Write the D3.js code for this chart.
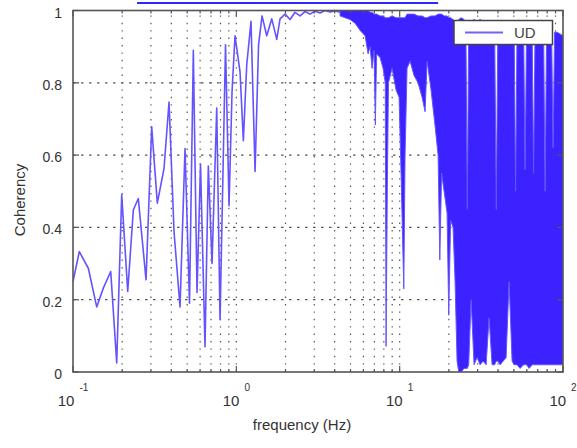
<!DOCTYPE html>
<html>
<head>
<meta charset="utf-8">
<script src="https://cdn.jsdelivr.net/npm/d3@7"></script>
<style>
  body { margin: 0; background: #fff; }
  svg { display: block; font-family: "Liberation Sans", Arial, sans-serif; }
</style>
</head>
<body>
<svg id="chart" width="577" height="448"></svg>
<script>
// Coherency trace, resolved part (Hz, coherency)
const lineFreq = [0.100, 0.1093, 0.1241, 0.1397, 0.1533, 0.1702, 0.1852, 0.1987, 0.2163, 0.2341,
  0.2511, 0.280, 0.3033, 0.3283, 0.3608, 0.3872, 0.4155, 0.4521, 0.4851, 0.5168,
  0.5454, 0.5745, 0.6036, 0.6430, 0.6738, 0.7099, 0.7586, 0.7947, 0.8586, 0.9023,
  0.9412, 0.9817, 1.0536, 1.104, 1.158, 1.230, 1.302, 1.368, 1.437, 1.535,
  1.648, 1.768, 1.852, 1.987, 2.133, 2.288, 2.455, 2.634, 2.827, 3.033,
  3.254, 3.493, 3.748, 4.022, 4.315];
const lineCoh = [0.25, 0.333, 0.287, 0.18, 0.232, 0.278, 0.025, 0.49, 0.223, 0.448,
  0.48, 0.255, 0.678, 0.467, 0.563, 0.747, 0.388, 0.18, 0.618, 0.19,
  0.89, 0.22, 0.575, 0.07, 0.57, 0.30, 0.73, 0.145, 0.905, 0.46,
  0.775, 0.93, 0.83, 0.64, 0.85, 0.97, 0.555, 0.905, 0.985, 0.93,
  0.977, 0.92, 0.977, 0.99, 0.975, 0.995, 0.985, 0.997, 0.99, 0.998,
  0.993, 1.0, 0.996, 0.999, 0.995];

// Coherency trace, densely oscillating part: min / max envelope per frequency
const bandFreq = [4.315, 4.629, 4.969, 5.333, 5.723, 6.141, 6.407, 6.590, 6.776, 6.969,
  7.099, 7.220, 7.586, 7.913, 8.164, 8.256, 8.398, 8.541, 8.984, 9.506,
  9.916, 10.20, 10.42, 10.60, 10.79, 11.10, 11.58, 12.25, 12.96, 13.72,
  14.31, 14.72, 15.57, 16.48, 17.19, 17.61, 18.06, 18.71, 19.51, 19.98,
  20.50, 21.23, 21.84, 22.46, 23.01, 23.77, 24.80, 25.43, 25.94, 26.46,
  27.37, 28.55, 29.79, 31.07, 32.42, 33.82, 35.28, 36.80, 38.12, 39.04,
  39.93, 41.19, 42.98, 44.84, 46.77, 48.79, 50.19, 51.25, 52.35, 54.61,
  57.37, 58.6, 59.85, 62.0, 64.69, 66.06, 67.47, 70.39, 73.43, 76.06,
  77.7, 79.36, 82.2, 85.15, 86.98, 88.84, 92.0, 95.99, 100];
const bandUpper = [1.0, 1.0, 1.0, 1.0, 1.0, 1.0, 1.0, 0.995, 0.995, 0.99,
  0.99, 0.99, 0.985, 0.985, 0.98, 0.98, 0.98, 0.98, 0.985, 0.98,
  0.98, 0.98, 0.98, 0.98, 0.98, 0.99, 0.99, 0.99, 0.985, 0.985,
  0.98, 0.98, 0.985, 0.985, 0.99, 0.99, 0.99, 0.985, 0.985, 0.98,
  0.98, 0.975, 0.97, 0.97, 0.975, 0.98, 0.975, 0.96, 0.45, 0.96,
  0.97, 0.975, 0.97, 0.975, 0.97, 0.97, 0.965, 0.97, 0.965, 0.45,
  0.96, 0.97, 0.97, 0.965, 0.97, 0.965, 0.96, 0.50, 0.96, 0.965,
  0.96, 0.56, 0.955, 0.96, 0.955, 0.55, 0.955, 0.95, 0.955, 0.95,
  0.50, 0.95, 0.95, 0.945, 0.62, 0.94, 0.94, 0.935, 0.93];
const bandLower = [0.985, 0.98, 0.975, 0.965, 0.945, 0.93, 0.88, 0.90, 0.84, 0.89,
  0.683, 0.88, 0.87, 0.84, 0.80, 0.071, 0.50, 0.80, 0.84, 0.78,
  0.76, 0.55, 0.37, 0.23, 0.60, 0.84, 0.86, 0.82, 0.80, 0.76,
  0.72, 0.86, 0.78, 0.68, 0.60, 0.31, 0.55, 0.50, 0.44, 0.157,
  0.42, 0.40, 0.25, 0.03, 0.0, 0.0, 0.01, 0.01, 0.01, 0.02,
  0.20, 0.02, 0.04, 0.02, 0.03, 0.02, 0.15, 0.02, 0.02, 0.03,
  0.03, 0.02, 0.03, 0.04, 0.25, 0.03, 0.02, 0.02, 0.02, 0.01,
  0.02, 0.02, 0.02, 0.01, 0.02, 0.02, 0.02, 0.02, 0.02, 0.02,
  0.02, 0.02, 0.02, 0.02, 0.02, 0.02, 0.02, 0.02, 0.02];

const yTicks = [0, 0.2, 0.4, 0.6, 0.8, 1];
const yTickLabels = ["0", "0.2", "0.4", "0.6", "0.8", "1"];
const xDecades = [0.1, 1, 10, 100];
const xDecadeExp = ["-1", "0", "1", "2"];
const seriesName = "UD";
const passBand = [0.2465, 17.2];   // analysis band marker above the plot (Hz)

const lineColor = "#6354ff";
const bandColor = "#3b22ff";

const svg = d3.select("#chart");
const plotLeft = 73, plotRight = 563, plotTop = 10.5, plotBottom = 372;

const x = d3.scaleLog().domain([0.1, 100]).range([plotLeft, plotRight]);
const y = d3.scaleLinear().domain([0, 1]).range([plotBottom, plotTop]);

svg.append("defs").append("clipPath").attr("id", "plotClip")
  .append("rect").attr("x", plotLeft).attr("y", plotTop)
  .attr("width", plotRight - plotLeft).attr("height", plotBottom - plotTop);

// grid
const grid = svg.append("g");
grid.selectAll("line.v")
  .data(x.ticks().filter(t => t > 0.1001 && t < 99.99))
  .join("line").attr("class", "v")
  .attr("x1", d => x(d)).attr("x2", d => x(d))
  .attr("y1", plotBottom).attr("y2", plotTop)
  .attr("stroke", "#555").attr("stroke-width", 1.2)
  .attr("stroke-dasharray", "1.4,6");
grid.selectAll("line.h")
  .data(yTicks.filter(t => t > 0 && t < 1))
  .join("line").attr("class", "h")
  .attr("x1", plotLeft).attr("x2", plotRight)
  .attr("y1", d => y(d)).attr("y2", d => y(d))
  .attr("stroke", "#555").attr("stroke-width", 1.2)
  .attr("stroke-dasharray", "2.5,5.5");

// data
const plot = svg.append("g").attr("clip-path", "url(#plotClip)");
const bandData = bandFreq.map((f, i) => ({ f, lo: bandLower[i], hi: bandUpper[i] }));
plot.append("path").datum(bandData)
  .attr("d", d3.area().x(d => x(d.f)).y0(d => y(d.lo)).y1(d => y(d.hi)))
  .attr("fill", bandColor).attr("stroke", lineColor).attr("stroke-width", 1)
  .attr("stroke-linejoin", "round");
const lineData = lineFreq.map((f, i) => ({ f, c: lineCoh[i] }));
plot.append("path").datum(lineData)
  .attr("d", d3.line().x(d => x(d.f)).y(d => y(d.c)))
  .attr("fill", "none").attr("stroke", lineColor).attr("stroke-width", 1.6)
  .attr("stroke-linejoin", "round");

// frame and ticks
const axes = svg.append("g").attr("stroke", "#555").attr("stroke-width", 1.2);
x.ticks().forEach(t => {
  const major = xDecades.some(d => Math.abs(d - t) / d < 1e-6);
  const len = major ? 6 : 3;
  axes.append("line").attr("x1", x(t)).attr("x2", x(t)).attr("y1", plotBottom).attr("y2", plotBottom - len);
  axes.append("line").attr("x1", x(t)).attr("x2", x(t)).attr("y1", plotTop).attr("y2", plotTop + len);
});
yTicks.forEach(t => {
  axes.append("line").attr("x1", plotLeft).attr("x2", plotLeft + 6).attr("y1", y(t)).attr("y2", y(t));
  axes.append("line").attr("x1", plotRight).attr("x2", plotRight - 6).attr("y1", y(t)).attr("y2", y(t));
});
svg.append("rect").attr("x", plotLeft).attr("y", plotTop)
  .attr("width", plotRight - plotLeft).attr("height", plotBottom - plotTop)
  .attr("fill", "none").attr("stroke", "#555").attr("stroke-width", 1.6);

// tick labels
svg.append("g").selectAll("text").data(yTicks).join("text")
  .attr("x", 62).attr("y", d => y(d) + 7)
  .attr("text-anchor", "end").attr("font-size", 14).attr("fill", "#333")
  .text((d, i) => yTickLabels[i]);
const xl = svg.append("g").selectAll("text").data(xDecades).join("text")
  .attr("x", d => x(d)).attr("y", 406)
  .attr("text-anchor", "middle").attr("font-size", 15).attr("fill", "#333");
xl.append("tspan").text("10");
xl.append("tspan").attr("dx", 5).attr("dy", -15).attr("font-size", 10)
  .text((d, i) => xDecadeExp[i]);

// axis titles
svg.append("text").attr("x", 302).attr("y", 430).attr("text-anchor", "middle")
  .attr("font-size", 15).attr("fill", "#333").text("frequency (Hz)");
svg.append("text").attr("transform", "translate(25,200) rotate(-90)")
  .attr("text-anchor", "middle").attr("font-size", 15).attr("fill", "#333")
  .text("Coherency");

// band marker above the plot
svg.append("line").attr("x1", x(passBand[0])).attr("x2", x(passBand[1]))
  .attr("y1", 3).attr("y2", 3).attr("stroke", "#2a2aff").attr("stroke-width", 2);

// legend
const lg = svg.append("g");
lg.append("rect").attr("x", 454).attr("y", 20.5).attr("width", 98.5).attr("height", 24)
  .attr("fill", "#fff").attr("stroke", "#444").attr("stroke-width", 1.5);
lg.append("line").attr("x1", 465).attr("x2", 503).attr("y1", 32.5).attr("y2", 32.5)
  .attr("stroke", "#6f62ff").attr("stroke-width", 2);
lg.append("text").attr("x", 514).attr("y", 38).attr("font-size", 15).attr("fill", "#444")
  .text(seriesName);
</script>
</body>
</html>
